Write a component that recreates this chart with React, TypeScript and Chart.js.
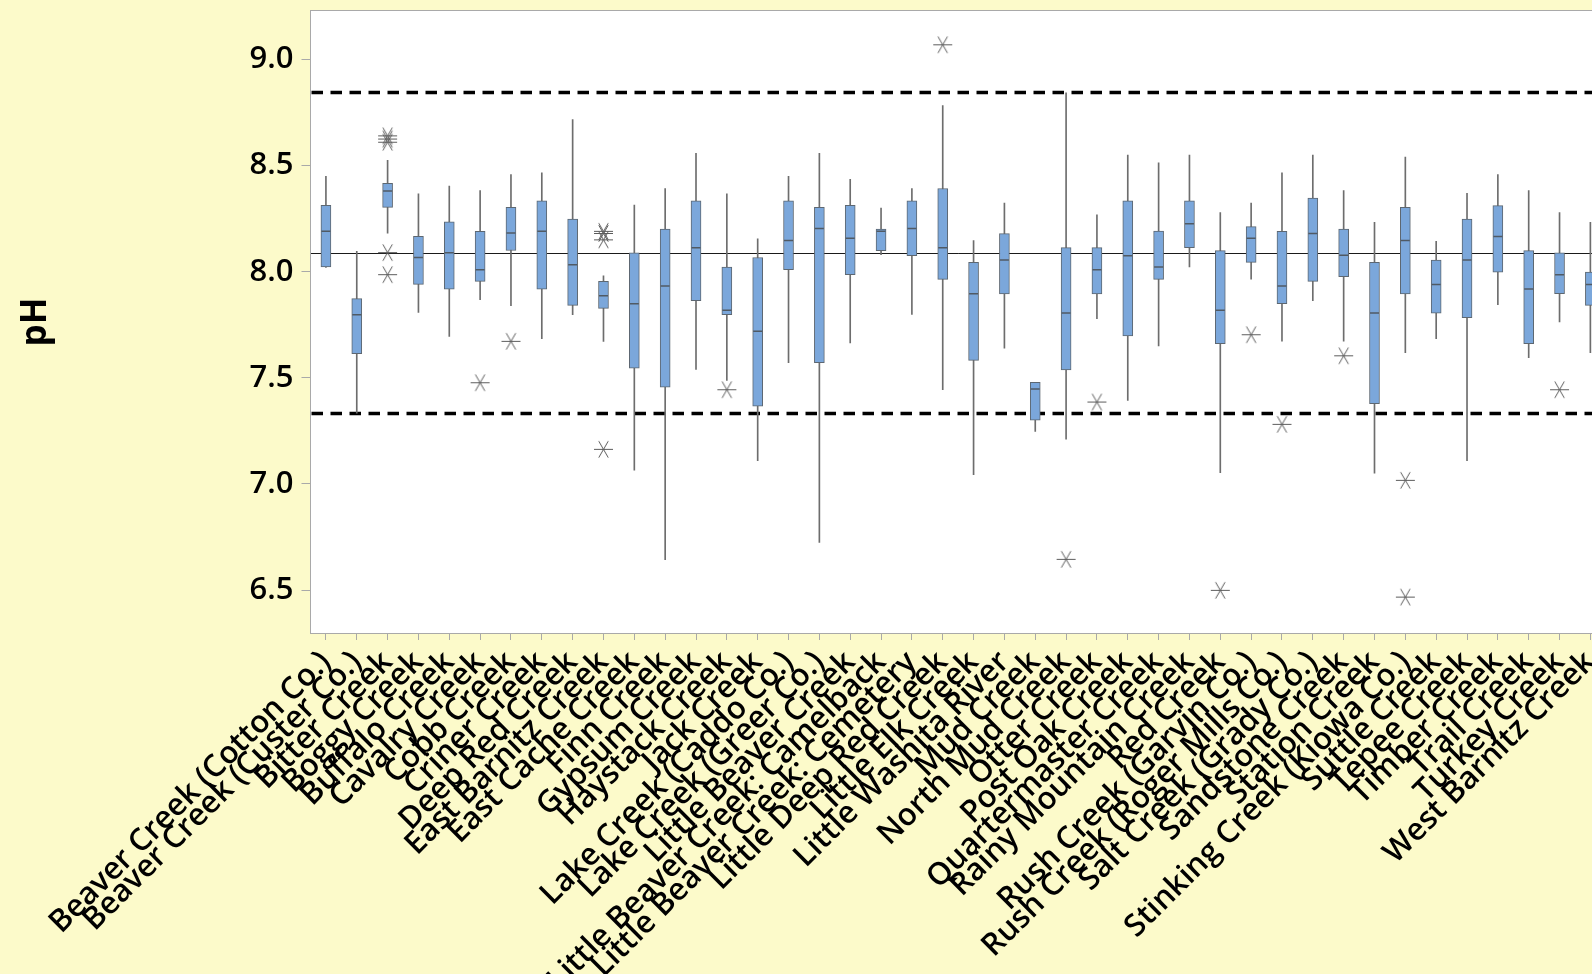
import React, { useEffect, useRef } from 'react';
import { Chart, registerables } from 'chart.js';

Chart.register(...registerables);

const categories = [
  'Beaver Creek (Cotton Co.)', 'Beaver Creek (Custer Co.)', 'Bitter Creek', 'Boggy Creek', 'Buffalo Creek',
  'Cavalry Creek', 'Cobb Creek', 'Criner Creek', 'Deep Red Creek', 'East Barnitz Creek',
  'East Cache Creek', 'Finn Creek', 'Gypsum Creek', 'Haystack Creek', 'Jack Creek',
  'Lake Creek (Caddo Co.)', 'Lake Creek (Greer Co.)', 'Little Beaver Creek', 'Little Beaver Creek: Camelback', 'Little Beaver Creek: Cemetery',
  'Little Deep Red Creek', 'Little Elk Creek', 'Little Washita River', 'Mud Creek', 'North Mud Creek',
  'Otter Creek', 'Post Oak Creek', 'Quartermaster Creek', 'Rainy Mountain Creek', 'Red Creek',
  'Rush Creek (Garvin Co.)', 'Rush Creek (Roger Mills Co.)', 'Salt Creek (Grady Co.)', 'Sandstone Creek', 'Station Creek',
  'Stinking Creek (Kiowa Co.)', 'Suttle Creek', 'Tepee Creek', 'Timber Creek', 'Trail Creek',
  'Turkey Creek', 'West Barnitz Creek',
];

const whiskerLow = [
  8.02, 7.334, 8.182, 7.808, 7.695,
  7.868, 7.84, 7.684, 7.797, 7.672,
  7.065, 6.643, 7.54, 7.488, 7.11,
  7.571, 6.725, 7.664, 8.08, 7.799,
  7.444, 7.044, 7.64, 7.248, 7.211,
  7.779, 7.394, 7.65, 8.022, 7.053,
  7.965, 7.673, 7.863, 7.673, 7.051,
  7.618, 7.684, 7.11, 7.845, 7.595,
  7.763, 7.618,
];

const q1 = [
  8.022, 7.614, 8.303, 7.94, 7.918,
  7.954, 8.1, 7.918, 7.841, 7.827,
  7.546, 7.456, 7.863, 7.797, 7.366,
  8.009, 7.571, 7.986, 8.099, 8.075,
  7.964, 7.582, 7.895, 7.3, 7.537,
  7.895, 7.697, 7.964, 8.113, 7.661,
  8.044, 7.849, 7.954, 7.976, 7.378,
  7.895, 7.805, 7.783, 7.998, 7.661,
  7.896, 7.841,
];

const median = [
  8.19, 7.797, 8.38, 8.067, 8.089,
  8.009, 8.182, 8.191, 8.033, 7.887,
  7.849, 7.932, 8.113, 7.818, 7.719,
  8.147, 8.203, 8.158, 8.191, 8.203,
  8.113, 7.896, 8.055, 7.447, 7.805,
  8.009, 8.075, 8.022, 8.226, 7.818,
  8.158, 7.932, 8.18, 8.077, 7.805,
  8.147, 7.94, 8.055, 8.166, 7.918,
  7.986, 7.94,
];

const q3 = [
  8.312, 7.873, 8.416, 8.166, 8.235,
  8.19, 8.303, 8.334, 8.248, 7.954,
  8.089, 8.201, 8.334, 8.022, 8.067,
  8.334, 8.303, 8.312, 8.201, 8.334,
  8.392, 8.044, 8.179, 7.479, 8.113,
  8.113, 8.334, 8.191, 8.334, 8.099,
  8.212, 8.19, 8.347, 8.201, 8.044,
  8.303, 8.055, 8.248, 8.311, 8.099,
  8.089, 7.998,
];

const whiskerHigh = [
  8.449, 8.096, 8.524, 8.367, 8.403,
  8.382, 8.458, 8.466, 8.717, 7.981,
  8.314, 8.391, 8.557, 8.367, 8.155,
  8.449, 8.557, 8.435, 8.3, 8.391,
  8.783, 8.147, 8.323, 7.479, 8.843,
  8.268, 8.549, 8.513, 8.549, 8.278,
  8.323, 8.466, 8.549, 8.382, 8.232,
  8.54, 8.143, 8.369, 8.458, 8.382,
  8.279, 8.232,
];

const outlierSite = [
  'Bitter Creek', 'Bitter Creek', 'Bitter Creek', 'Bitter Creek', 'Bitter Creek',
  'Cavalry Creek', 'Cobb Creek',
  'East Barnitz Creek', 'East Barnitz Creek', 'East Barnitz Creek', 'East Barnitz Creek',
  'Haystack Creek', 'Little Deep Red Creek', 'North Mud Creek', 'Otter Creek', 'Red Creek',
  'Rush Creek (Garvin Co.)', 'Rush Creek (Roger Mills Co.)', 'Sandstone Creek',
  'Stinking Creek (Kiowa Co.)', 'Stinking Creek (Kiowa Co.)', 'Turkey Creek',
];
const outlierPH = [
  8.64, 8.625, 8.61, 8.09, 7.986,
  7.477, 7.672,
  8.19, 8.18, 8.15, 7.163,
  7.444, 9.069, 6.645, 7.386, 6.499,
  7.703, 7.281, 7.604,
  7.017, 6.467, 7.444,
];

const yTicks = [6.5, 7.0, 7.5, 8.0, 8.5, 9.0];
const yMin = 6.298;
const yMax = 9.228;
const centerLine = 8.088;
const upperLimit = 8.844;
const lowerLimit = 7.332;

const W = 1620;
const H = 974;
const BG = 'rgb(252,250,202)';
const FONT = '"Open Sans", "Noto Sans", sans-serif';

function makeStar(): HTMLCanvasElement {
  const c = document.createElement('canvas');
  c.width = 21;
  c.height = 21;
  const g = c.getContext('2d')!;
  g.strokeStyle = '#5c5c5c';
  g.lineWidth = 1;
  const r = 9.5;
  for (const a of [0, 60, 120]) {
    const t = (a * Math.PI) / 180;
    g.beginPath();
    g.moveTo(10.5 - r * Math.cos(t), 10.5 - r * Math.sin(t));
    g.lineTo(10.5 + r * Math.cos(t), 10.5 + r * Math.sin(t));
    g.stroke();
  }
  return c;
}

const decoPlugin = {
  id: 'deco',
  beforeDraw(chart: any) {
    const { ctx, chartArea: a } = chart;
    ctx.save();
    ctx.fillStyle = BG;
    ctx.fillRect(0, 0, chart.width, chart.height);
    ctx.fillStyle = '#ffffff';
    ctx.fillRect(a.left, a.top, a.right - a.left, a.bottom - a.top);
    ctx.restore();
  },
  beforeDatasetsDraw(chart: any) {
    const { ctx, chartArea: a, scales } = chart;
    const y = scales.y;
    ctx.save();
    ctx.beginPath();
    ctx.rect(a.left, a.top, a.right - a.left, a.bottom - a.top);
    ctx.clip();
    const yc = Math.round(y.getPixelForValue(centerLine)) + 0.5;
    ctx.strokeStyle = '#1a1a1a';
    ctx.lineWidth = 1;
    ctx.beginPath();
    ctx.moveTo(a.left, yc);
    ctx.lineTo(a.right, yc);
    ctx.stroke();
    ctx.strokeStyle = '#000000';
    ctx.lineWidth = 3.5;
    ctx.setLineDash([11.5, 7.5]);
    for (const v of [upperLimit, lowerLimit]) {
      const yy = y.getPixelForValue(v);
      ctx.beginPath();
      ctx.moveTo(a.left + 1, yy);
      ctx.lineTo(a.right, yy);
      ctx.stroke();
    }
    ctx.restore();
  },
  afterDraw(chart: any) {
    const { ctx, chartArea: a } = chart;
    ctx.save();
    ctx.strokeStyle = '#a9a9a9';
    ctx.lineWidth = 1;
    ctx.strokeRect(Math.round(a.left) - 0.5, Math.round(a.top) - 0.5, Math.round(a.right - a.left) + 1, Math.round(a.bottom - a.top) + 1);
    ctx.restore();
  },
};

export default function App() {
  const ref = useRef<HTMLCanvasElement | null>(null);

  useEffect(() => {
    if (!ref.current) return;
    const star = makeStar();
    const chart = new Chart(ref.current, {
      type: 'bar',
      data: {
        labels: categories,
        datasets: [
          {
            type: 'bar',
            label: 'whisker',
            data: categories.map((_, i) => [whiskerLow[i], whiskerHigh[i]]),
            backgroundColor: '#6d6d6d',
            borderWidth: 0,
            barThickness: 1,
            grouped: false,
            order: 3,
          } as any,
          {
            type: 'bar',
            label: 'box',
            data: categories.map((_, i) => [q1[i], q3[i]]),
            backgroundColor: '#7ba7db',
            borderColor: '#5d6771',
            borderWidth: 1,
            borderSkipped: false,
            barThickness: 10,
            grouped: false,
            order: 2,
          } as any,
          {
            type: 'line',
            label: 'median',
            data: median,
            showLine: false,
            pointStyle: 'line',
            pointRadius: 4.5,
            pointBorderColor: '#505a64',
            pointBorderWidth: 1.5,
            order: 1,
          } as any,
          {
            type: 'line',
            label: 'outliers',
            data: outlierSite.map((s, i) => ({ x: s, y: outlierPH[i] })),
            showLine: false,
            pointStyle: star,
            pointRadius: 10,
            order: 0,
          } as any,
        ],
      },
      options: {
        responsive: false,
        animation: false,
        events: [],
        layout: { padding: { top: 11, right: W - 1605.8, left: 0, bottom: 0 } },
        plugins: { legend: { display: false }, tooltip: { enabled: false } },
        scales: {
          x: {
            type: 'category',
            offset: true,
            grid: { display: true, offset: false, drawOnChartArea: false, drawTicks: true, tickLength: 7, color: '#a9a9a9' },
            border: { display: false },
            ticks: {
              autoSkip: false,
              maxRotation: 45,
              minRotation: 45,
              padding: 4,
              color: '#000',
              font: { family: FONT, size: 31, weight: '600' },
            },
            afterFit: (s: any) => {
              s.height = H - 633;
              s.paddingLeft = 0;
              s.paddingRight = 0;
            },
          },
          y: {
            type: 'linear',
            min: yMin,
            max: yMax,
            afterBuildTicks: (s: any) => {
              s.ticks = yTicks.map((v) => ({ value: v }));
            },
            grid: { drawOnChartArea: false, drawTicks: true, tickLength: 9, color: '#a9a9a9' },
            border: { display: false },
            ticks: {
              padding: 8,
              color: '#000',
              font: { family: FONT, size: 31, weight: '600' },
              callback: (v: any) => Number(v).toFixed(1),
            },
            title: {
              display: true,
              text: 'pH',
              color: '#000',
              font: { family: FONT, size: 35, weight: 'bold' },
              padding: { top: 15, bottom: 0 },
            },
            afterFit: (s: any) => {
              s.width = 310.5;
              s.paddingTop = 0;
              s.paddingBottom = 0;
            },
          },
        },
      } as any,
      plugins: [decoPlugin],
    });
    return () => chart.destroy();
  }, []);

  return (
    <div style={{ position: 'fixed', left: 0, top: 0, width: '100vw', height: '100vh', overflow: 'hidden', background: BG }}>
      <canvas ref={ref} width={W} height={H} style={{ display: 'block', width: W + 'px', height: H + 'px' }} />
    </div>
  );
}
